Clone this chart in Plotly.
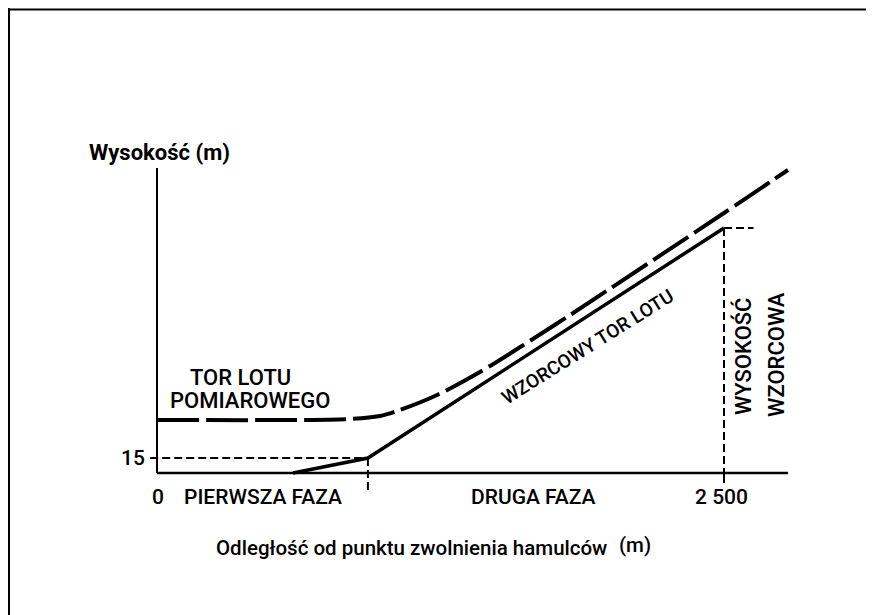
import plotly.graph_objects as go

# ---- data (metres) ----
measured_x = [0, 851, 983, 1071, 1235, 1424, 1609, 1808, 2500, 2782]
measured_y = [53, 54, 57, 63, 78, 101, 127, 156, 260, 303]

standard_x = [600, 930, 2500]
standard_y = [0, 15, 245]

phase_boundary_x = 930
reference_x = 2500
reference_h = 245
screen_h = 15

x_axis_end = 2782
y_axis_top = 305

x_ticks = [0, 2500]
x_tick_labels = ["0", "2 500"]
y_ticks = [15]
y_tick_labels = ["15"]

phase_labels = ["PIERWSZA FAZA", "DRUGA FAZA"]
phase_label_x = [467, 1662]

INK = "#000000"
FONT = "Roboto, Liberation Sans, Arial, sans-serif"

fig = go.Figure()

# axes lines
fig.add_trace(go.Scatter(x=[0, x_axis_end], y=[0, 0], mode="lines",
                         line=dict(color=INK, width=2.5), hoverinfo="skip"))
fig.add_trace(go.Scatter(x=[0, 0], y=[0, y_axis_top], mode="lines",
                         line=dict(color=INK, width=2), hoverinfo="skip"))
# tick at 2500
fig.add_trace(go.Scatter(x=[reference_x, reference_x], y=[0, -10], mode="lines",
                         line=dict(color=INK, width=2), hoverinfo="skip"))

# thin dashed guides
guide = dict(color=INK, width=2, dash="8px,4px")
fig.add_trace(go.Scatter(x=[-30, phase_boundary_x], y=[screen_h, screen_h], mode="lines",
                         line=guide, hoverinfo="skip"))
fig.add_trace(go.Scatter(x=[phase_boundary_x, phase_boundary_x], y=[screen_h, -17], mode="lines",
                         line=guide, hoverinfo="skip"))
fig.add_trace(go.Scatter(x=[reference_x, reference_x], y=[reference_h, 0], mode="lines",
                         line=guide, hoverinfo="skip"))
fig.add_trace(go.Scatter(x=[reference_x, 2630], y=[reference_h, reference_h], mode="lines",
                         line=guide, hoverinfo="skip"))

# standard flight path
fig.add_trace(go.Scatter(x=standard_x, y=standard_y, mode="lines",
                         line=dict(color=INK, width=3.5), hoverinfo="skip"))
# measured flight path
fig.add_trace(go.Scatter(x=measured_x, y=measured_y, mode="lines",
                         line=dict(color=INK, width=4, dash="42px,7px",
                                   shape="spline", smoothing=0.8), hoverinfo="skip"))

ann = []
def txt(x, y, t, size=20, weight=500, angle=0, xanchor="center"):
    ann.append(dict(x=x, y=y, xref="x", yref="y", text=t,
                    showarrow=False, textangle=angle, xanchor=xanchor, yanchor="middle",
                    font=dict(family=FONT, size=size, color=INK, weight=weight)))

txt(13, 321, "Wysokość (m)", size=22, weight=700)
for v, lab in zip(y_ticks, y_tick_labels):
    txt(-44, v, lab, size=21, xanchor="right")
for v, lab in zip(x_ticks, x_tick_labels):
    txt(v + (4 if v == 0 else -9), -24, lab, size=21)
for v, lab in zip(phase_label_x, phase_labels):
    txt(v, -24, lab, size=21)
txt(1120, -75, "Odległość od punktu zwolnienia hamulców", size=20.5, xanchor="center")
txt(2028, -72, "(m)", size=20.5, xanchor="left")
txt(366, 96, "TOR LOTU", size=22)
txt(410, 73, "POMIAROWEGO", size=22)
txt(1900, 127, "WZORCOWY TOR LOTU", size=19, angle=-32)
txt(2584, 117, "WYSOKOŚĆ", size=22, angle=-90)
txt(2729, 119, "WZORCOWA", size=22, angle=-90)

# page offset of the figure inside the browser (body margin) is compensated in the ranges
OFF = 8
fig.update_layout(
    width=874, height=615,
    margin=dict(l=0, r=0, t=0, b=0),
    paper_bgcolor="white", plot_bgcolor="white",
    showlegend=False,
    xaxis=dict(range=[(OFF - 157) / 0.2268, (874 + OFF - 157) / 0.2268], visible=False, fixedrange=True),
    yaxis=dict(range=[473 - OFF - 615, 473 - OFF], visible=False, fixedrange=True),
    annotations=ann,
    shapes=[
        dict(type="line", xref="paper", yref="paper", x0=0, x1=1, y0=1 - 1.5 / 615, y1=1 - 1.5 / 615,
             line=dict(color=INK, width=2)),
        dict(type="line", xref="paper", yref="paper", x0=1 / 874, x1=1 / 874, y0=0, y1=1,
             line=dict(color=INK, width=2)),
    ],
)

fig.write_html("out.html")
